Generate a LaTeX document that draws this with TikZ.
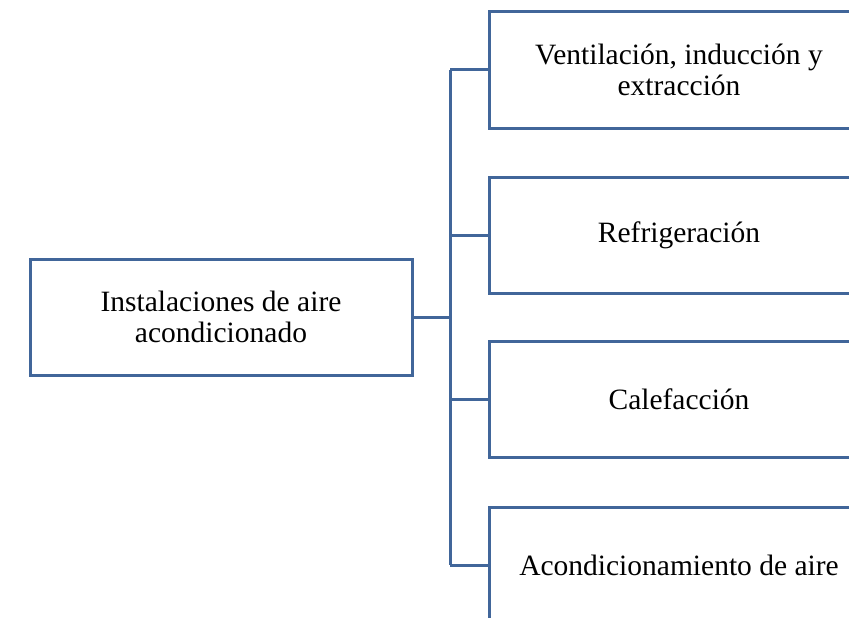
\documentclass[tikz,border=0pt]{standalone}
\usepackage{fontspec}
\setmainfont{Liberation Serif}
\definecolor{boxblue}{HTML}{41669A}
\begin{document}
\begin{tikzpicture}[x=1pt,y=-1pt,
  box/.style={draw=boxblue,line width=3pt,fill=white,align=center,inner sep=0pt,
    font=\fontsize{29.5}{31}\selectfont,text=black},
  leftbox/.style={box,minimum width=382pt,minimum height=116pt},
  rightbox/.style={box,minimum width=380pt,minimum height=116pt},
  link/.style={draw=boxblue,line width=3pt}]
\useasboundingbox (0,0) rectangle (849,618);
\clip (0,0) rectangle (849,618);
\node[leftbox] (main) at (221,317) {Instalaciones de aire\\acondicionado};
\node[rightbox] (b1) at (679,70) {Ventilación, inducción y\\extracción};
\node[rightbox] (b2) at (679,235) {Refrigeración};
\node[rightbox] (b3) at (679,399) {Calefacción};
\node[rightbox] (b4) at (679,565) {Acondicionamiento de aire};
\coordinate (j) at (450,317);
\draw[link] (main.east) -- (j);
\draw[link] (j |- b1.west) -- (j |- b4.west);
\draw[link] (j |- b1.west) -- (b1.west);
\draw[link] (j |- b2.west) -- (b2.west);
\draw[link] (j |- b3.west) -- (b3.west);
\draw[link] (j |- b4.west) -- (b4.west);
\end{tikzpicture}
\end{document}
